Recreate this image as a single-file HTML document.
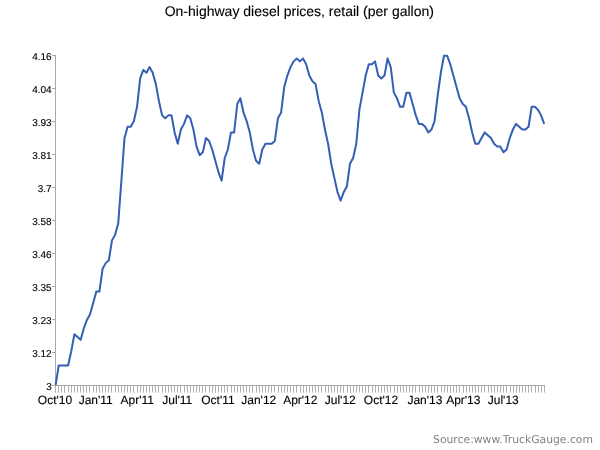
<!DOCTYPE html>
<html><head><meta charset="utf-8"><title>On-highway diesel prices</title>
<style>html,body{margin:0;padding:0;background:#fff;}body{width:600px;height:450px;overflow:hidden;}svg{display:block;}text{font-family:"Liberation Sans",Arial,Helvetica,sans-serif;fill:#000;text-rendering:geometricPrecision;stroke:#000;stroke-width:0.12px;}.src{font-family:"DejaVu Sans",Verdana,sans-serif;}</style></head><body>
<svg width="600" height="450" viewBox="0 0 600 450">
<rect width="600" height="450" fill="#fff"/>
<text x="299.3" y="15.6" font-size="14" text-anchor="middle">On-highway diesel prices, retail (per gallon)</text>
<text x="51.7" y="389.8" font-size="10" text-anchor="end">3</text>
<text x="51.7" y="356.8" font-size="10" text-anchor="end">3.12</text>
<text x="51.7" y="323.8" font-size="10" text-anchor="end">3.23</text>
<text x="51.7" y="290.8" font-size="10" text-anchor="end">3.35</text>
<text x="51.7" y="257.8" font-size="10" text-anchor="end">3.46</text>
<text x="51.7" y="224.8" font-size="10" text-anchor="end">3.58</text>
<text x="51.7" y="191.8" font-size="10" text-anchor="end">3.7</text>
<text x="51.7" y="158.8" font-size="10" text-anchor="end">3.81</text>
<text x="51.7" y="125.8" font-size="10" text-anchor="end">3.93</text>
<text x="51.7" y="92.8" font-size="10" text-anchor="end">4.04</text>
<text x="51.7" y="59.8" font-size="10" text-anchor="end">4.16</text>
<text x="55.00" y="403.8" font-size="12" text-anchor="middle">Oct'10</text>
<text x="95.75" y="403.8" font-size="12" text-anchor="middle">Jan'11</text>
<text x="137.30" y="403.8" font-size="12" text-anchor="middle">Apr'11</text>
<text x="177.25" y="403.8" font-size="12" text-anchor="middle">Jul'11</text>
<text x="218.00" y="403.8" font-size="12" text-anchor="middle">Oct'11</text>
<text x="258.75" y="403.8" font-size="12" text-anchor="middle">Jan'12</text>
<text x="300.30" y="403.8" font-size="12" text-anchor="middle">Apr'12</text>
<text x="340.25" y="403.8" font-size="12" text-anchor="middle">Jul'12</text>
<text x="381.00" y="403.8" font-size="12" text-anchor="middle">Oct'12</text>
<text x="424.88" y="403.8" font-size="12" text-anchor="middle">Jan'13</text>
<text x="463.30" y="403.8" font-size="12" text-anchor="middle">Apr'13</text>
<text x="503.25" y="403.8" font-size="12" text-anchor="middle">Jul'13</text>
<path d="M55.5,55.0 V386 M52,385.5 H545 M52,385.5 h3 M52,352.5 h3 M52,319.5 h3 M52,286.5 h3 M52,253.5 h3 M52,220.5 h3 M52,187.5 h3 M52,154.5 h3 M52,121.5 h3 M52,88.5 h3 M52,55.5 h3" fill="none" stroke="#a8a8a8" stroke-width="1"/>
<path d="M55.5,386 v6.6 M58.5,386 v6.6 M61.5,386 v6.6 M64.5,386 v6.6 M68.5,386 v6.6 M71.5,386 v6.6 M74.5,386 v6.6 M77.5,386 v6.6 M80.5,386 v6.6 M83.5,386 v6.6 M86.5,386 v6.6 M89.5,386 v6.6 M93.5,386 v6.6 M96.5,386 v6.6 M99.5,386 v6.6 M102.5,386 v6.6 M105.5,386 v6.6 M108.5,386 v6.6 M111.5,386 v6.6 M115.5,386 v6.6 M118.5,386 v6.6 M121.5,386 v6.6 M124.5,386 v6.6 M127.5,386 v6.6 M130.5,386 v6.6 M133.5,386 v6.6 M137.5,386 v6.6 M140.5,386 v6.6 M143.5,386 v6.6 M146.5,386 v6.6 M149.5,386 v6.6 M152.5,386 v6.6 M155.5,386 v6.6 M158.5,386 v6.6 M162.5,386 v6.6 M165.5,386 v6.6 M168.5,386 v6.6 M171.5,386 v6.6 M174.5,386 v6.6 M177.5,386 v6.6 M180.5,386 v6.6 M184.5,386 v6.6 M187.5,386 v6.6 M190.5,386 v6.6 M193.5,386 v6.6 M196.5,386 v6.6 M199.5,386 v6.6 M202.5,386 v6.6 M205.5,386 v6.6 M209.5,386 v6.6 M212.5,386 v6.6 M215.5,386 v6.6 M218.5,386 v6.6 M221.5,386 v6.6 M224.5,386 v6.6 M227.5,386 v6.6 M231.5,386 v6.6 M234.5,386 v6.6 M237.5,386 v6.6 M240.5,386 v6.6 M243.5,386 v6.6 M246.5,386 v6.6 M249.5,386 v6.6 M252.5,386 v6.6 M256.5,386 v6.6 M259.5,386 v6.6 M262.5,386 v6.6 M265.5,386 v6.6 M268.5,386 v6.6 M271.5,386 v6.6 M274.5,386 v6.6 M278.5,386 v6.6 M281.5,386 v6.6 M284.5,386 v6.6 M287.5,386 v6.6 M290.5,386 v6.6 M293.5,386 v6.6 M296.5,386 v6.6 M300.5,386 v6.6 M303.5,386 v6.6 M306.5,386 v6.6 M309.5,386 v6.6 M312.5,386 v6.6 M315.5,386 v6.6 M318.5,386 v6.6 M321.5,386 v6.6 M325.5,386 v6.6 M328.5,386 v6.6 M331.5,386 v6.6 M334.5,386 v6.6 M337.5,386 v6.6 M340.5,386 v6.6 M343.5,386 v6.6 M347.5,386 v6.6 M350.5,386 v6.6 M353.5,386 v6.6 M356.5,386 v6.6 M359.5,386 v6.6 M362.5,386 v6.6 M365.5,386 v6.6 M368.5,386 v6.6 M372.5,386 v6.6 M375.5,386 v6.6 M378.5,386 v6.6 M381.5,386 v6.6 M384.5,386 v6.6 M387.5,386 v6.6 M390.5,386 v6.6 M394.5,386 v6.6 M397.5,386 v6.6 M400.5,386 v6.6 M403.5,386 v6.6 M406.5,386 v6.6 M409.5,386 v6.6 M412.5,386 v6.6 M415.5,386 v6.6 M419.5,386 v6.6 M422.5,386 v6.6 M425.5,386 v6.6 M428.5,386 v6.6 M431.5,386 v6.6 M434.5,386 v6.6 M437.5,386 v6.6 M441.5,386 v6.6 M444.5,386 v6.6 M447.5,386 v6.6 M450.5,386 v6.6 M453.5,386 v6.6 M456.5,386 v6.6 M459.5,386 v6.6 M463.5,386 v6.6 M466.5,386 v6.6 M469.5,386 v6.6 M472.5,386 v6.6 M475.5,386 v6.6 M478.5,386 v6.6 M481.5,386 v6.6 M484.5,386 v6.6 M488.5,386 v6.6 M491.5,386 v6.6 M494.5,386 v6.6 M497.5,386 v6.6 M500.5,386 v6.6 M503.5,386 v6.6 M506.5,386 v6.6 M510.5,386 v6.6 M513.5,386 v6.6 M516.5,386 v6.6 M519.5,386 v6.6 M522.5,386 v6.6 M525.5,386 v6.6 M528.5,386 v6.6 M531.5,386 v6.6 M535.5,386 v6.6 M538.5,386 v6.6 M541.5,386 v6.6 M544.5,386 v6.6" fill="none" stroke="#b0b0b0" stroke-width="1"/>
<path d="M55.60,385.30 L58.73,365.41 L61.86,365.41 L65.00,365.41 L68.13,365.41 L71.26,351.20 L74.39,334.16 L77.52,337.00 L80.66,339.84 L83.79,328.47 L86.92,319.95 L90.05,314.27 L93.18,302.90 L96.32,291.53 L99.45,291.53 L102.58,268.80 L105.71,263.12 L108.84,260.28 L111.98,240.39 L115.11,234.71 L118.24,223.34 L121.37,180.72 L124.51,138.10 L127.64,126.73 L130.77,126.73 L133.90,121.05 L137.03,106.84 L140.17,78.43 L143.30,69.91 L146.43,72.75 L149.56,67.07 L152.69,72.75 L155.83,84.11 L158.96,101.16 L162.09,115.37 L165.22,118.21 L168.35,115.37 L171.49,115.37 L174.62,132.42 L177.75,143.78 L180.88,129.58 L184.01,123.89 L187.15,115.37 L190.28,118.21 L193.41,129.58 L196.54,146.62 L199.67,155.15 L202.81,152.31 L205.94,138.10 L209.07,140.94 L212.20,149.47 L215.33,160.83 L218.47,172.20 L221.60,180.72 L224.73,157.99 L227.86,149.47 L230.99,132.42 L234.13,132.42 L237.26,104.00 L240.39,98.32 L243.52,112.53 L246.66,121.05 L249.79,132.42 L252.92,149.47 L256.05,160.83 L259.18,163.67 L262.32,149.47 L265.45,143.78 L268.58,143.78 L271.71,143.78 L274.84,140.94 L277.98,118.21 L281.11,112.53 L284.24,86.96 L287.37,75.59 L290.50,67.07 L293.64,61.38 L296.77,58.54 L299.90,61.38 L303.03,58.54 L306.16,64.22 L309.30,75.59 L312.43,81.27 L315.56,84.11 L318.69,101.16 L321.82,112.53 L324.96,129.58 L328.09,143.78 L331.22,163.67 L334.35,177.88 L337.48,192.09 L340.62,200.61 L343.75,192.09 L346.88,186.40 L350.01,163.67 L353.14,157.99 L356.28,143.78 L359.41,109.69 L362.54,92.64 L365.67,75.59 L368.81,64.22 L371.94,64.22 L375.07,61.38 L378.20,75.59 L381.33,78.43 L384.47,75.59 L387.60,58.54 L390.73,67.07 L393.86,92.64 L396.99,98.32 L400.13,106.84 L403.26,106.84 L406.39,92.64 L409.52,92.64 L412.65,104.00 L415.79,115.37 L418.92,123.89 L422.05,123.89 L425.18,126.73 L428.31,132.42 L431.45,129.58 L434.58,121.05 L437.71,95.48 L440.84,72.75 L443.97,55.70 L447.11,55.70 L450.24,64.22 L453.37,75.59 L456.50,86.96 L459.63,98.32 L462.77,104.00 L465.90,106.84 L469.03,118.21 L472.16,132.42 L475.29,143.78 L478.43,143.78 L481.56,138.10 L484.69,132.42 L487.82,135.26 L490.96,138.10 L494.09,143.78 L497.22,146.62 L500.35,146.62 L503.48,152.31 L506.62,149.47 L509.75,138.10 L512.88,129.58 L516.01,123.89 L519.14,126.73 L522.28,129.58 L525.41,129.58 L528.54,126.73 L531.67,106.84 L534.80,106.84 L537.94,109.69 L541.07,115.37 L544.20,123.89" fill="none" stroke="#345fb2" stroke-width="2" stroke-linejoin="round" stroke-linecap="butt"/>
<path d="M52,385.5 H545" fill="none" stroke="#a8a8a8" stroke-width="1"/>
<text class="src" x="593" y="443" font-size="10.8" text-anchor="end" style="fill:#808080;stroke:none">Source:www.TruckGauge.com</text>
</svg></body></html>
